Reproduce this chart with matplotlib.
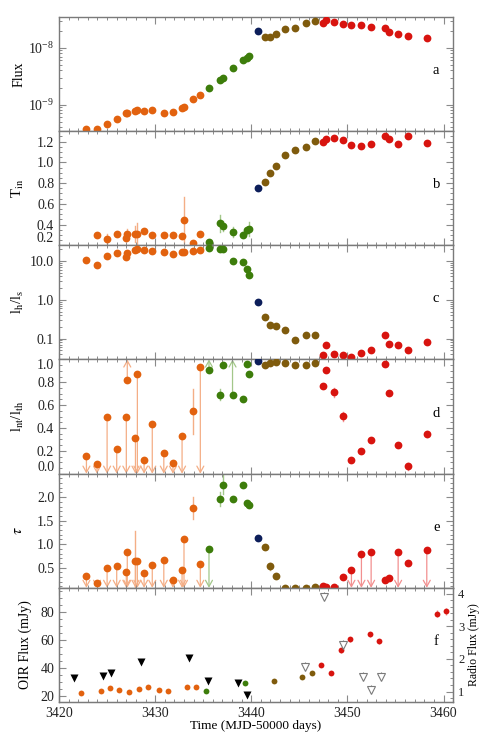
import numpy as np
import matplotlib
matplotlib.use('Agg')
import matplotlib.pyplot as plt
from matplotlib.ticker import MultipleLocator, FixedLocator, FormatStrFormatter, NullFormatter, LogLocator

plt.rcParams['font.family'] = ['Liberation Serif', 'DejaVu Serif']
plt.rcParams['mathtext.fontset'] = 'stix'

nan = np.nan

# X-ray observation times (MJD-50000), grouped by state
t_hard = [3422.85, 3423.95, 3425.0, 3426.0, 3427.0, 3427.1, 3427.95, 3428.15, 3428.85,
          3429.7, 3430.9, 3431.85, 3432.8, 3433.0, 3433.9, 3434.7]
t_hims = [3435.6, 3436.7, 3437.1, 3438.05, 3439.1, 3439.55, 3439.75]
t_sims = [3440.65]
t_trans = [3441.47, 3441.98, 3442.55, 3443.54, 3444.55, 3445.7, 3446.63]
t_soft = [3447.47, 3447.81, 3448.58, 3449.55, 3450.42, 3451.46, 3452.47, 3453.89,
          3454.38, 3455.28, 3456.28, 3458.26]

# panel a: flux
flux_a = [3.68e-10, 3.78e-10, 4.63e-10, 5.6e-10, 6.97e-10, 7.1e-10, 7.87e-10, 7.9e-10, 7.75e-10,
          7.96e-10, 7.15e-10, 7.43e-10, 8.87e-10, 9.1e-10, 1.26e-9, 1.47e-9,
          1.97e-9, 2.77e-9, 3.0e-9, 4.39e-9, 6.14e-9, 6.76e-9, 7.22e-9,
          2.0e-8,
          1.55e-8, 1.55e-8, 1.77e-8, 2.11e-8, 2.2e-8, 2.73e-8, 2.92e-8,
          2.73e-8, 3.04e-8, 2.81e-8, 2.62e-8, 2.51e-8, 2.51e-8, 2.29e-8, 2.26e-8,
          1.89e-8, 1.75e-8, 1.63e-8, 1.5e-8]

# panel b: T_in
tin_b = [nan, 0.301, 0.262, 0.307, 0.275, 0.314, 0.311, 0.311, 0.34,
         0.301, 0.301, 0.304, 0.294, 0.443, 0.219, 0.311,
         0.236, 0.411, 0.384, 0.33, 0.304, 0.343, 0.359,
         0.748,
         0.809, 0.893, 0.967, 1.071, 1.122, 1.151, 1.204,
         1.194, 1.223, 1.233, 1.214, 1.168, 1.161, 1.175, 1.249, 1.226, 1.175, 1.249, 1.19]
tin_err = [0, 0.01, 0.05, 0.01, 0.03, 0.04, 0.08, 0.1, 0.02,
           0.01, 0.01, 0.01, 0.02, 0.22, 0.02, 0.01,
           0.02, 0.08, 0.05, 0.05, 0.02, 0.03, 0.07,
           0,
           0, 0, 0, 0, 0, 0, 0,
           0, 0, 0, 0, 0, 0, 0, 0, 0, 0, 0, 0]

# panel c: lh/ls
ratio_c = [10.8, 7.7, 13.4, 16.4, 13.0, 16.4, 19.2, 20.9, 18.9,
           18.1, 17.4, 14.9, 17.4, 17.4, 17.8, 19.2,
           21.2, 20.0, 21.0, 9.8, 9.4, 6.1, 4.46,
           0.9,
           0.36, 0.224, 0.216, 0.17, 0.09, 0.122, 0.124,
           0.0378, 0.07, 0.040, 0.037, 0.033, 0.0435, 0.0508, 0.122, 0.074, 0.07, 0.052, 0.08]

# panel d: lnt/lth, with limit flags (u = upper limit, l = lower limit)
lnt_d = [0.157, 0.082, 0.499, 0.216, 0.499, 0.817, 0.309, 0.875, 0.117,
         0.437, 0.181, 0.093, 0.332, nan, 0.545, 0.936,
         0.904, 0.691, 0.948, 0.691, 0.65, 0.96, 0.875,
         0.99,
         0.954, 0.968, 0.977, 0.965, 0.956, 0.951, 0.965,
         0.77, 0.904, 0.711, 0.501, 0.122, 0.201, 0.297, 0.96, 0.706, 0.251, 0.064, 0.347]
lnt_err = [0, 0, 0, 0, 0, 0, 0, 0, 0,
           0, 0, 0, 0, 0, 0.2, 0,
           0, 0.05, 0, 0, 0, 0, 0,
           0,
           0, 0, 0, 0, 0, 0, 0,
           0, 0, 0.04, 0.04, 0, 0, 0, 0, 0, 0, 0.03, 0.03]
lnt_flag = ['u', 'u', 'u', 'u', 'u', 'l', 'u', 'u', 'u',
            'u', 'u', 'u', 'u', '', '', 'u',
            'l', '', '', 'l', '', '', '',
            '',
            '', '', '', '', '', '', '',
            '', '', '', '', '', '', '', '', '', '', '', '']

# panel e: tau
tau_e = [0.32, 0.179, 0.5, 0.535, 0.406, 0.834, 0.65, 0.635, 0.378,
         0.564, 0.663, 0.243, 0.442, 1.112, 1.77, 0.585,
         0.898, 1.962, 2.262, 1.956, 2.248, 1.877, 1.84,
         1.127,
         0.93, 0.528, 0.314, 0.07, 0.07, 0.07, 0.08,
         0.105, 0.08, 0.08, 0.3, 0.44, 0.80, 0.83, 0.243, 0.286, 0.834, 0.59, 0.885]
tau_err = [0, 0, 0, 0, 0, 0, 0.62, 0, 0,
           0, 0, 0, 0, 0, 0.24, 0,
           0, 0.15, 0.2, 0, 0, 0, 0,
           0,
           0, 0.07, 0, 0, 0, 0, 0,
           0, 0, 0, 0, 0, 0, 0, 0, 0, 0, 0, 0]
tau_flag = ['u', 'u', 'u', 'u', 'u', 'u', 'u', 'u', 'u',
            'u', 'u', 'u', 'u', 'u', '', 'u',
            'u', '', '', '', '', '', '',
            '',
            '', '', '', '', '', '', '',
            '', '', '', '', 'u', 'u', 'u', '', '', 'u', '', 'u']

# panel f: OIR flux (mJy)
oir_t_hard = [3422.32, 3424.34, 3425.31, 3426.28, 3427.29, 3428.3, 3429.3, 3430.35, 3431.35, 3433.33, 3434.27]
oir_hard = [21.9, 23.1, 25.7, 24.3, 22.4, 24.8, 26.4, 23.8, 23.3, 26.2, 26.2]
oir_t_hims = [3435.31, 3439.38]
oir_hims = [23.3, 28.8]
oir_t_trans = [3442.33, 3445.31, 3446.32]
oir_trans = [30.5, 33.3, 36.4]
oir_t_soft = [3447.29, 3448.33, 3449.34, 3450.31, 3452.33, 3453.33, 3459.34, 3460.28]
oir_soft = [42.1, 36.4, 52.4, 60.2, 63.8, 58.8, 78.6, 80.2]
oir_soft_err = [1.5, 1.2, 1.8, 2.0, 2.0, 1.8, 2.5, 2.5]

# panel f: radio flux (mJy)
radio_t = [3421.56, 3424.55, 3425.45, 3428.5, 3433.5, 3435.52, 3438.57, 3439.51]
radio = [1.41, 1.49, 1.56, 1.89, 2.04, 1.31, 1.26, 0.89]
radio_lim_t = [3445.55, 3447.53, 3449.55, 3451.6, 3452.5, 3453.54]
radio_lim = [1.75, 3.91, 2.44, 1.45, 1.05, 1.45]

ORANGE, ORANGE_L = '#e2620f', '#f4ae86'
GREEN, GREEN_L = '#3d7d0b', '#a3c78a'
NAVY, NAVY_L = '#0c1e5a', '#8890b0'
BROWN, BROWN_L = '#7f5b0d', '#c9b27e'
RED, RED_L = '#d8140f', '#f29090'

XLIM = (3420, 3461)
MS = 5.6


def state_colors():
    cols, light = [], []
    for ts, c, cl in [(t_hard, ORANGE, ORANGE_L), (t_hims, GREEN, GREEN_L), (t_sims, NAVY, NAVY_L),
                      (t_trans, BROWN, BROWN_L), (t_soft, RED, RED_L)]:
        cols += [c] * len(ts)
        light += [cl] * len(ts)
    return cols, light


def draw_xray(ax, vals, ylim, err=None, flags=None):
    times = t_hard + t_hims + t_sims + t_trans + t_soft
    cols, light = state_colors()
    for i, (t, v) in enumerate(zip(times, vals)):
        if np.isnan(v):
            continue
        if err is not None and err[i] > 0:
            ax.plot([t, t], [v - err[i], v + err[i]], color=light[i], lw=1.0, zorder=1)
        if flags is not None and flags[i]:
            end = ylim[0] if flags[i] == 'u' else ylim[1]
            ax.annotate('', xy=(t, end), xytext=(t, v),
                        arrowprops=dict(arrowstyle='->,head_length=0.45,head_width=0.25',
                                        color=light[i], lw=0.9, shrinkA=0, shrinkB=0),
                        annotation_clip=False, zorder=1)
        ax.plot(t, v, 'o', color=cols[i], ms=MS, mec='none', zorder=3)
    ax.set_ylim(*ylim)


def style_axis(ax, letter, right=True):
    ax.tick_params(which='both', direction='in', top=True, right=right,
                   color='#8a8a8a', labelsize=10, labelcolor='#222222')
    ax.tick_params(which='major', length=5, width=0.8)
    ax.tick_params(which='minor', length=2.5, width=0.7)
    for s in ax.spines.values():
        s.set_color('#7a7a7a')
        s.set_linewidth(1.0)
    ax.text(0.957, 0.53, letter, transform=ax.transAxes, ha='center', va='center', fontsize=10.5)


def main():
    fig, axes = plt.subplots(6, 1, figsize=(4.8, 7.4), dpi=100, sharex=True)
    fig.subplots_adjust(left=0.123, right=0.944, top=0.977, bottom=0.0514, hspace=0)
    ax_a, ax_b, ax_c, ax_d, ax_e, ax_f = axes

    # a: flux
    ax_a.set_yscale('log')
    draw_xray(ax_a, flux_a, (3.4e-10, 3.5e-8))
    ax_a.yaxis.set_major_locator(FixedLocator([1e-9, 1e-8]))
    ax_a.yaxis.set_minor_locator(LogLocator(base=10, subs=np.arange(2, 10)))
    ax_a.yaxis.set_minor_formatter(NullFormatter())
    ax_a.set_ylabel('Flux', fontsize=10)

    # b: T_in
    draw_xray(ax_b, tin_b, (0.2, 1.3), err=tin_err)
    ax_b.yaxis.set_major_locator(FixedLocator([0.2, 0.4, 0.6, 0.8, 1.0, 1.2]))
    ax_b.yaxis.set_minor_locator(MultipleLocator(0.05))
    ax_b.yaxis.set_major_formatter(FormatStrFormatter('%.1f'))
    ax_b.set_ylabel(r'T$_{\rm in}$', fontsize=10.5)

    # c: lh/ls
    ax_c.set_yscale('log')
    draw_xray(ax_c, ratio_c, (0.029, 25.4))
    ax_c.yaxis.set_major_locator(FixedLocator([0.1, 1.0, 10.0]))
    ax_c.yaxis.set_major_formatter(FormatStrFormatter('%.1f'))
    ax_c.yaxis.set_minor_locator(LogLocator(base=10, subs=np.arange(2, 10)))
    ax_c.yaxis.set_minor_formatter(NullFormatter())
    ax_c.set_ylabel(r'l$_{\rm h}$/l$_{\rm s}$', fontsize=10.5)

    # d: lnt/lth
    draw_xray(ax_d, lnt_d, (0.0, 1.0), err=lnt_err, flags=lnt_flag)
    ax_d.yaxis.set_major_locator(FixedLocator([0.0, 0.2, 0.4, 0.6, 0.8, 1.0]))
    ax_d.yaxis.set_minor_locator(MultipleLocator(0.05))
    ax_d.yaxis.set_major_formatter(FormatStrFormatter('%.1f'))
    ax_d.set_ylabel(r'l$_{\rm nt}$/l$_{\rm th}$', fontsize=10.5)

    # e: tau
    draw_xray(ax_e, tau_e, (0.07, 2.5), err=tau_err, flags=tau_flag)
    ax_e.yaxis.set_major_locator(FixedLocator([0.5, 1.0, 1.5, 2.0]))
    ax_e.yaxis.set_minor_locator(MultipleLocator(0.1))
    ax_e.yaxis.set_major_formatter(FormatStrFormatter('%.1f'))
    ax_e.set_ylabel(r'$\tau$', fontsize=11.5)

    # f: OIR and radio
    ax_r = ax_f.twinx()
    ax_f.plot(oir_t_hard, oir_hard, 'o', color=ORANGE, ms=4.2, mec='none', zorder=3)
    ax_f.plot(oir_t_hims, oir_hims, 'o', color=GREEN, ms=4.2, mec='none', zorder=3)
    ax_f.plot(oir_t_trans, oir_trans, 'o', color=BROWN, ms=4.2, mec='none', zorder=3)
    ax_f.errorbar(oir_t_soft, oir_soft, yerr=oir_soft_err, fmt='o', color=RED, ms=4.2, mec='none',
                  ecolor=RED_L, elinewidth=1.0, capsize=0, zorder=3)
    ax_f.set_ylim(15.5, 97)
    ax_f.yaxis.set_major_locator(FixedLocator([20, 40, 60, 80]))
    ax_f.yaxis.set_minor_locator(MultipleLocator(5))
    ax_f.set_ylabel('OIR Flux (mJy)', fontsize=10)

    ax_r.plot(radio_t, radio, 'v', color='black', ms=5.5, mec='none', zorder=3)
    ax_r.errorbar(radio_lim_t, radio_lim, yerr=[[0.0] * len(radio_lim), [0.14] * len(radio_lim)],
                  fmt='v', ms=5.5, mfc='white', mec='#7a7a7a', mew=0.8, ecolor='#7a7a7a',
                  elinewidth=0.8, capsize=0, zorder=3)
    ax_r.set_ylim(0.68, 4.18)
    ax_r.yaxis.set_major_locator(FixedLocator([1, 2, 3, 4]))
    ax_r.yaxis.set_minor_locator(MultipleLocator(0.2))
    ax_r.set_ylabel('Radio Flux (mJy)', fontsize=8.5, labelpad=3)

    ax_f.set_xlim(*XLIM)
    ax_f.xaxis.set_major_locator(MultipleLocator(10))
    ax_f.xaxis.set_minor_locator(MultipleLocator(1))
    ax_f.set_xlabel('Time (MJD-50000 days)', fontsize=9.5, labelpad=0)

    for ax, letter in zip(axes, 'abcdef'):
        style_axis(ax, letter, right=(ax is not ax_f))
        ax.yaxis.set_label_coords(-0.085, 0.5)
    ax_f.yaxis.set_label_coords(-0.068, 0.5)
    ax_r.tick_params(which='both', direction='in', color='#8a8a8a', labelsize=9, labelcolor='#222222')
    ax_r.tick_params(which='major', length=5, width=0.8)
    ax_r.tick_params(which='minor', length=2.5, width=0.7)
    for s in ax_r.spines.values():
        s.set_color('#7a7a7a')

    # keep the edge tick labels inside their own panel
    fig.canvas.draw()
    ax_b.get_yticklabels()[0].set_va('bottom')
    ax_d.get_yticklabels()[0].set_va('bottom')
    ax_d.get_yticklabels()[-1].set_va('top')

    fig.savefig('out.png', dpi=100)
    plt.close(fig)


if __name__ == '__main__':
    main()
